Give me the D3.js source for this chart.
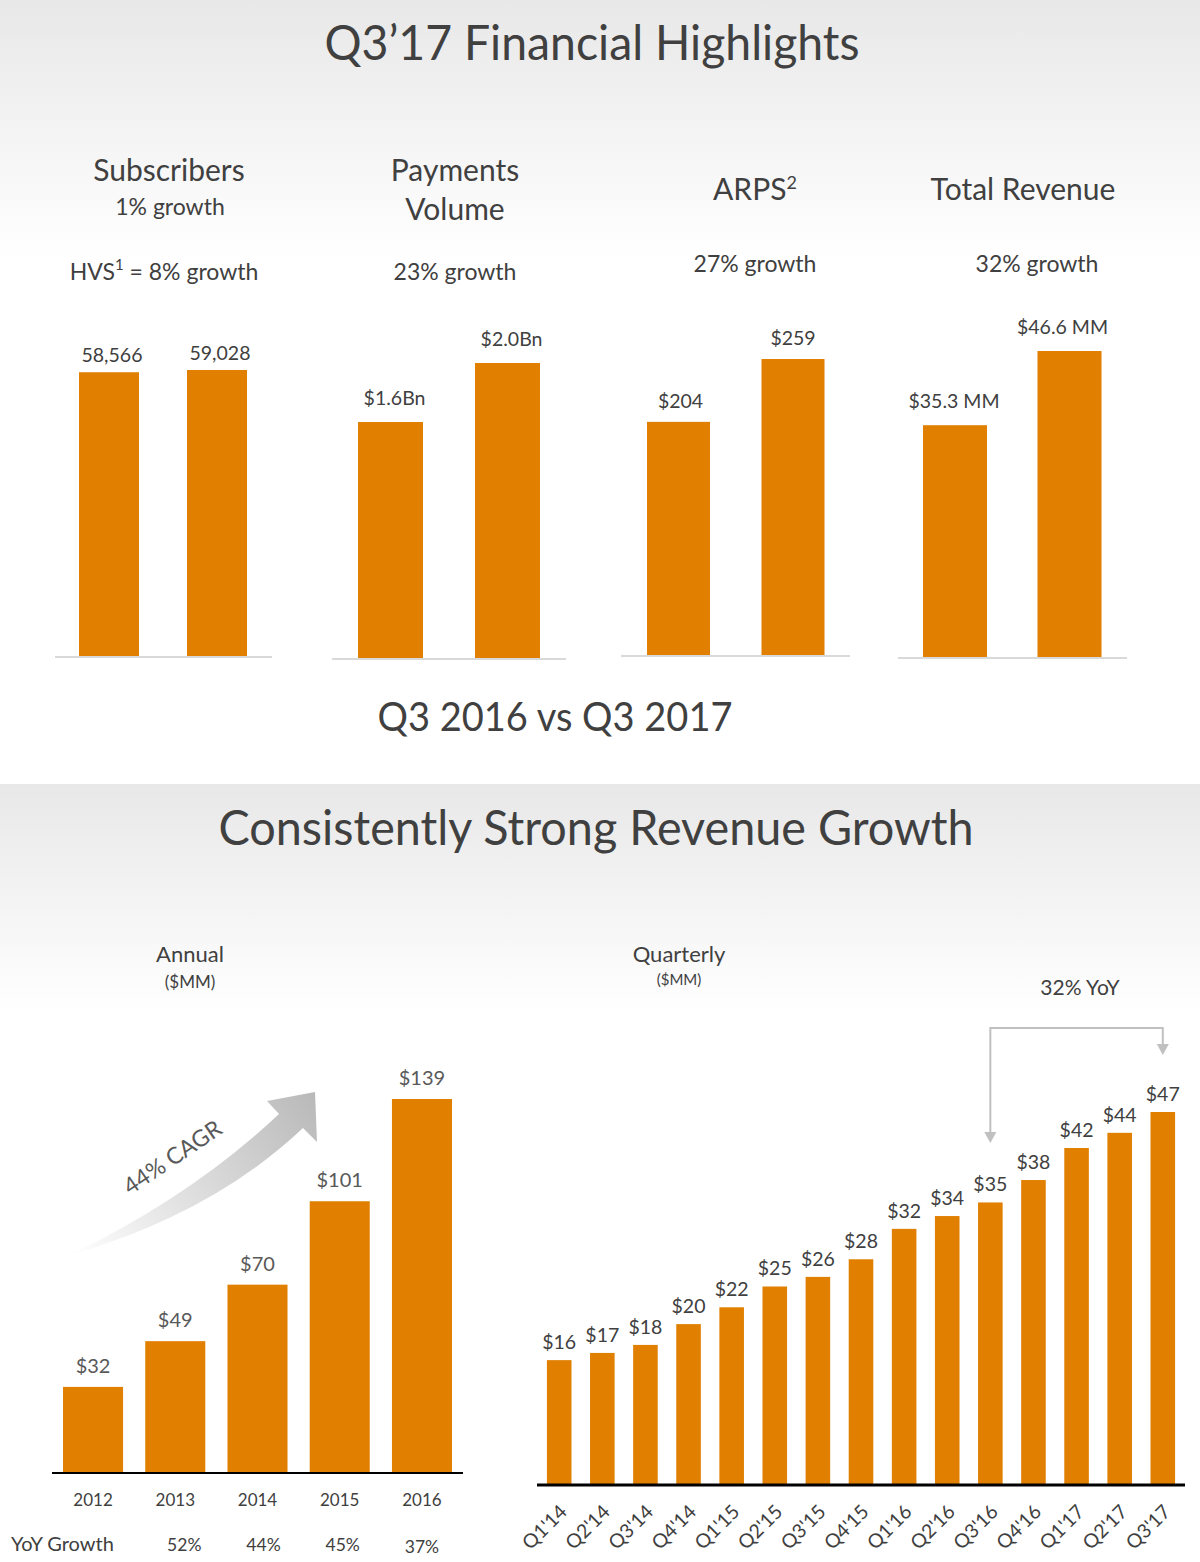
<!DOCTYPE html>
<html><head><meta charset="utf-8">
<script src="https://cdn.jsdelivr.net/npm/d3@7"></script>
<style>
html,body{margin:0;padding:0;background:#fff}
svg{display:block}
text{font-family:Lato,'Open Sans',sans-serif;fill:#404040}
</style>
</head><body>
<svg id="c" width="1200" height="1562"></svg>
<script>
// ---------- DATA ----------
const comparePeriods = ["Q3 2016", "Q3 2017"];
const subscribers = [58566, 59028];
const subscribersLabels = ["58,566", "59,028"];
const paymentsVolume = [1.6, 2.0];
const paymentsLabels = ["$1.6Bn", "$2.0Bn"];
const arps = [204, 259];
const arpsLabels = ["$204", "$259"];
const totalRevenue = [35.3, 46.6];
const revenueLabels = ["$35.3 MM", "$46.6 MM"];

const annualYears = ["2012", "2013", "2014", "2015", "2016"];
const annualRevenue = [32, 49, 70, 101, 139];
const annualLabels = ["$32", "$49", "$70", "$101", "$139"];
const annualGrowth = ["", "52%", "44%", "45%", "37%"];

const quarters = ["Q1'14","Q2'14","Q3'14","Q4'14","Q1'15","Q2'15","Q3'15","Q4'15","Q1'16","Q2'16","Q3'16","Q4'16","Q1'17","Q2'17","Q3'17"];
const quarterlyRevenue = [15.6, 16.5, 17.5, 20.1, 22.2, 24.8, 26.0, 28.2, 32.0, 33.6, 35.3, 38.1, 42.1, 44.0, 46.6];
const quarterlyLabels = ["$16","$17","$18","$20","$22","$25","$26","$28","$32","$34","$35","$38","$42","$44","$47"];

// ---------- SETUP ----------
const ORANGE = "#E07F00";
const svg = d3.select("#c");
const defs = svg.append("defs");

const g1 = defs.append("linearGradient").attr("id","bgTop").attr("x1",0).attr("y1",0).attr("x2",0).attr("y2",1);
g1.append("stop").attr("offset","0").attr("stop-color","#e8e8e8");
g1.append("stop").attr("offset","1").attr("stop-color","#ffffff");
const g2 = defs.append("linearGradient").attr("id","bgBot").attr("x1",0).attr("y1",0).attr("x2",0).attr("y2",1);
g2.append("stop").attr("offset","0").attr("stop-color","#e8e8e8");
g2.append("stop").attr("offset","1").attr("stop-color","#ffffff");
const g3 = defs.append("linearGradient").attr("id","arrowGrad").attr("gradientUnits","userSpaceOnUse")
  .attr("x1",70).attr("y1",1255).attr("x2",315).attr("y2",1095);
g3.append("stop").attr("offset","0").attr("stop-color","#ffffff");
g3.append("stop").attr("offset","1").attr("stop-color","#b9b9b9");

svg.append("rect").attr("x",0).attr("y",0).attr("width",1200).attr("height",1562).attr("fill","#fff");
svg.append("rect").attr("x",0).attr("y",0).attr("width",1200).attr("height",260).attr("fill","url(#bgTop)");
svg.append("rect").attr("x",0).attr("y",784).attr("width",1200).attr("height",230).attr("fill","url(#bgBot)");

function txt(x, y, s, size, opts = {}) {
  const t = svg.append("text").attr("x", x).attr("y", y).attr("font-size", size)
    .attr("text-anchor", opts.anchor || "middle").text(s);
  if (opts.fill) t.style("fill", opts.fill);
  if (opts.len) t.attr("textLength", opts.len).attr("lengthAdjust", "spacingAndGlyphs");
  return t;
}

// ---------- TITLES ----------
txt(592, 60, "Q3\u201917 Financial Highlights", 48, {len: 535});
txt(555, 731, "Q3 2016 vs Q3 2017", 40, {len: 355});
txt(596, 845, "Consistently Strong Revenue Growth", 48, {len: 755});

// ---------- TOP PANELS ----------
txt(169, 181, "Subscribers", 30);
txt(170, 215, "1% growth", 23);
const hvs = svg.append("text").attr("x",164).attr("y",280).attr("font-size",23).attr("text-anchor","middle");
hvs.append("tspan").text("HVS");
hvs.append("tspan").attr("font-size",15).attr("dy",-10).text("1");
hvs.append("tspan").attr("dy",10).text(" = 8% growth");
txt(455, 181, "Payments", 30);
txt(455, 220, "Volume", 30);
txt(455, 280, "23% growth", 23);
const ar = svg.append("text").attr("x",755).attr("y",200).attr("font-size",30).attr("text-anchor","middle");
ar.append("tspan").text("ARPS");
ar.append("tspan").attr("font-size",18).attr("dy",-11).text("2");
txt(755, 272, "27% growth", 23);
txt(1023, 200, "Total Revenue", 30);
txt(1037, 272, "32% growth", 23);

const panels = [
  {values: subscribers, labels: subscribersLabels, base: 656, top: 370, c: [109, 217], w: 60, line: [55, 272], off: 10, lx: [3, 3]},
  {values: paymentsVolume, labels: paymentsLabels, base: 658, top: 363, c: [390.5, 507.5], w: 65, line: [332, 566], off: 17, lx: [4, 4]},
  {values: arps, labels: arpsLabels, base: 655, top: 359, c: [678.5, 793], w: 63, line: [621, 850], off: 14, lx: [2, 0]},
  {values: totalRevenue, labels: revenueLabels, base: 657, top: 351, c: [955, 1069.5], w: 64, line: [898, 1127], off: 17, lx: [-1, -7]}
];
panels.forEach(p => {
  const y = d3.scaleLinear().domain([0, d3.max(p.values)]).range([p.base, p.top]);
  const x = d3.scalePoint().domain(comparePeriods).range(p.c);
  const g = svg.append("g");
  g.append("line").attr("x1", p.line[0]).attr("x2", p.line[1]).attr("y1", p.base + 1).attr("y2", p.base + 1)
    .attr("stroke", "#d9d9d9").attr("stroke-width", 2);
  g.selectAll("rect").data(p.values).join("rect")
    .attr("x", (d, i) => x(comparePeriods[i]) - p.w / 2)
    .attr("width", p.w)
    .attr("y", d => y(d))
    .attr("height", d => p.base - y(d))
    .attr("fill", ORANGE);
  g.selectAll("text").data(p.values).join("text")
    .attr("x", (d, i) => x(comparePeriods[i]) + p.lx[i])
    .attr("y", d => y(d) - p.off)
    .attr("text-anchor", "middle").attr("font-size", 19.5)
    .text((d, i) => p.labels[i]);
});

// ---------- ANNUAL ----------
txt(190, 962, "Annual", 22);
txt(190, 988, "($MM)", 17);
const ax = d3.scaleBand().domain(annualYears).range([52, 463]).paddingInner(0.27).paddingOuter(0.134);
const ay = d3.scaleLinear().domain([0, 139]).range([1473, 1099]);
const ag = svg.append("g");
ag.selectAll("rect").data(annualRevenue).join("rect")
  .attr("x", (d, i) => ax(annualYears[i])).attr("width", ax.bandwidth())
  .attr("y", d => ay(d)).attr("height", d => ay(0) - ay(d)).attr("fill", ORANGE);
ag.selectAll("text.v").data(annualRevenue).join("text").attr("class","v")
  .attr("x", (d, i) => ax(annualYears[i]) + ax.bandwidth() / 2)
  .attr("y", d => ay(d) - 14).attr("text-anchor","middle").attr("font-size",20)
  .style("fill","#595959").text((d, i) => annualLabels[i]);
ag.append("line").attr("x1",52).attr("x2",463).attr("y1",1473).attr("y2",1473).attr("stroke","#000").attr("stroke-width",2);
const axisA = svg.append("g").attr("transform","translate(0,1473)")
  .call(d3.axisBottom(ax).tickSize(0).tickPadding(21));
axisA.select(".domain").remove();
axisA.selectAll("text").attr("font-size",17).attr("font-family","Lato").style("fill","#404040");
txt(11, 1551, "YoY Growth", 20, {anchor: "start"});
ag.selectAll("text.gr").data(annualGrowth).join("text").attr("class","gr")
  .attr("x", (d, i) => ax(annualYears[i]) + ax.bandwidth() / 2 + 12 - i * 3)
  .attr("y", (d, i) => i === 4 ? 1553 : 1551).attr("text-anchor","middle").attr("font-size",17.5).text(d => d);

// CAGR arrow
svg.append("path")
  .attr("d", "M70,1255 Q192,1196 279,1114 L267,1101 L315,1092 L317,1142 L303,1128 Q212,1214 70,1255 Z")
  .attr("fill", "url(#arrowGrad)");
svg.append("text").attr("transform","translate(177,1164) rotate(-34)")
  .attr("text-anchor","middle").attr("font-size",23).style("fill","#595959").text("44% CAGR");

// ---------- QUARTERLY ----------
txt(679, 962, "Quarterly", 22);
txt(679, 985, "($MM)", 15);
txt(1080, 995, "32% YoY", 21);
const qx = d3.scaleBand().domain(quarters).range([537, 1185]).paddingInner(0.43).paddingOuter(0.23);
const qy = d3.scaleLinear().domain([0, 46.6]).range([1485, 1112]);
const qg = svg.append("g");
qg.selectAll("rect").data(quarterlyRevenue).join("rect")
  .attr("x", (d, i) => qx(quarters[i])).attr("width", qx.bandwidth())
  .attr("y", d => qy(d)).attr("height", d => qy(0) - qy(d)).attr("fill", ORANGE);
qg.selectAll("text.v").data(quarterlyRevenue).join("text").attr("class","v")
  .attr("x", (d, i) => qx(quarters[i]) + qx.bandwidth() / 2)
  .attr("y", d => qy(d) - 11).attr("text-anchor","middle").attr("font-size",19.5)
  .text((d, i) => quarterlyLabels[i]);
qg.append("line").attr("x1",537).attr("x2",1185).attr("y1",1485).attr("y2",1485).attr("stroke","#000").attr("stroke-width",3);
const axisQ = svg.append("g").attr("transform","translate(0,1485)")
  .call(d3.axisBottom(qx).tickSize(0).tickPadding(0));
axisQ.select(".domain").remove();
axisQ.selectAll("text").attr("font-size",19.5).attr("font-family","Lato").style("fill","#404040")
  .attr("text-anchor","end").attr("dy",0).attr("y",0)
  .attr("transform","translate(9,28) rotate(-45)");

// 32% YoY bracket
const x35 = qx("Q3'16") + qx.bandwidth() / 2;
const x47 = qx("Q3'17") + qx.bandwidth() / 2;
svg.append("path").attr("d", `M${x35},1133 V1028 H${x47} V1045`)
  .attr("fill","none").attr("stroke","#c0c0c0").attr("stroke-width",2);
svg.append("path").attr("d", `M${x35-6},1132 L${x35+6},1132 L${x35},1143 Z`).attr("fill","#c0c0c0");
svg.append("path").attr("d", `M${x47-6},1044 L${x47+6},1044 L${x47},1055 Z`).attr("fill","#c0c0c0");
</script>
</body></html>
